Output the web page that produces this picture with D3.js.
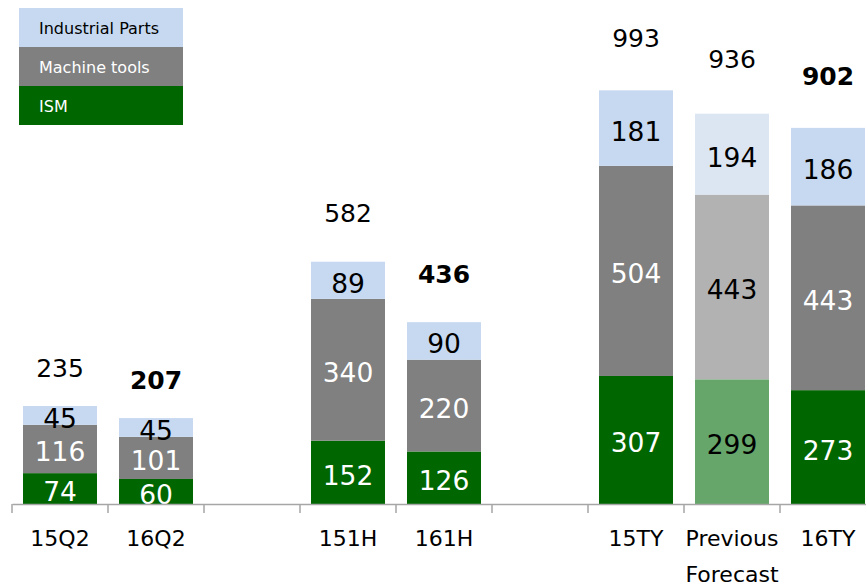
<!DOCTYPE html>
<html><head><meta charset="utf-8">
<script src="https://cdn.jsdelivr.net/npm/d3@7"></script>
<style>body{margin:0;background:#fff}svg{display:block}text{font-family:"DejaVu Sans",Verdana,sans-serif}</style>
</head><body><svg id="c" width="866" height="587"></svg>
<script>
// ---- data ----
const categories = ["15Q2","16Q2","gapA","151H","161H","gapB","15TY","Previous Forecast","16TY"];
const ism        = [74, 60, null, 152, 126, null, 307, 299, 273];
const machine    = [116, 101, null, 340, 220, null, 504, 443, 443];
const parts      = [45, 45, null, 89, 90, null, 181, 194, 186];
const totals     = [235, 207, null, 582, 436, null, 993, 936, 902];
const boldTotal  = [false, true, null, false, true, null, false, false, true];
const forecast   = [false, false, null, false, false, null, false, true, false];
const seriesNames = ["Industrial Parts", "Machine tools", "ISM"];

// ---- layout ----
const svg = d3.select("#c");
const base = 504;
const x = d3.scaleBand().domain(categories).range([12, 876]).paddingInner(0).paddingOuter(0);
const y = d3.scaleLinear().domain([0, 1000]).range([base, 87]);
const barW = 74;
const colors = {
  normal:   {ism:"#006600", machine:"#808080", parts:"#c6d9f1"},
  forecast: {ism:"#66a66a", machine:"#b2b2b2", parts:"#dce6f2"}
};
const totalGap = [38,38,0,48,48,0,52,54,51];

categories.forEach((c, i) => {
  if (ism[i] == null) return;
  const cx = x(c) + x.bandwidth()/2;
  const col = forecast[i] ? colors.forecast : colors.normal;
  const segs = [
    {v: ism[i], color: col.ism, txt: forecast[i] ? "#000" : "#fff"},
    {v: machine[i], color: col.machine, txt: forecast[i] ? "#000" : "#fff"},
    {v: parts[i], color: col.parts, txt: "#000"}
  ];
  let acc = 0;
  segs.forEach(s => {
    const y0 = y(acc), y1 = y(acc + s.v);
    svg.append("rect").attr("x", cx - barW/2).attr("y", y1)
      .attr("width", barW).attr("height", y0 - y1).attr("fill", s.color);
    svg.append("text").attr("x", cx).attr("y", (y0 + y1)/2 + 3)
      .attr("text-anchor", "middle").attr("dominant-baseline", "central")
      .attr("font-size", 26.5).attr("fill", s.txt).text(s.v);
    acc += s.v;
  });
  svg.append("text").attr("x", cx).attr("y", y(acc) - totalGap[i])
    .attr("text-anchor", "middle").attr("dominant-baseline", "central")
    .attr("font-size", 25).attr("font-weight", boldTotal[i] ? "bold" : "normal")
    .attr("fill", "#000").text(totals[i]);
});

// axis
const axis = d3.axisBottom(x).tickSize(0).tickFormat("");
const ag = svg.append("g").attr("transform", `translate(0,${base})`).call(axis);
ag.select(".domain").attr("stroke", "#a6a6a6").attr("stroke-width", 1.5);
categories.forEach(c => {
  svg.append("line").attr("x1", x(c)).attr("x2", x(c)).attr("y1", base).attr("y2", base + 9)
    .attr("stroke", "#a6a6a6").attr("stroke-width", 1.5);
});
categories.forEach((c, i) => {
  if (ism[i] == null) return;
  const cx = x(c) + x.bandwidth()/2;
  const words = c === "Previous Forecast" ? ["Previous", "Forecast"] : [c];
  words.forEach((w, k) => {
    svg.append("text").attr("x", cx).attr("y", 538 + k*36)
      .attr("text-anchor", "middle").attr("dominant-baseline", "central")
      .attr("font-size", 22).attr("fill", "#000").text(w);
  });
});

// legend
const legColors = [colors.normal.parts, colors.normal.machine, colors.normal.ism];
const legText = ["#000", "#fff", "#fff"];
seriesNames.forEach((n, k) => {
  svg.append("rect").attr("x", 19).attr("y", 8 + k*39).attr("width", 164).attr("height", 39)
    .attr("fill", legColors[k]);
  svg.append("text").attr("x", 39).attr("y", 8 + k*39 + 20).attr("dominant-baseline", "central")
    .attr("font-size", 16).attr("fill", legText[k]).text(n);
});
</script></body></html>
